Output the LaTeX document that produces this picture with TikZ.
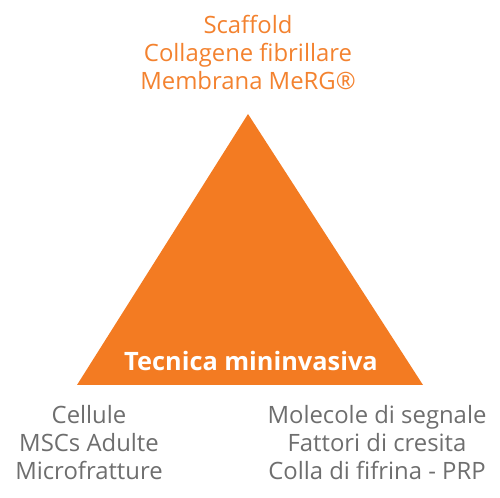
\documentclass[tikz,border=0pt]{standalone}
\usepackage{fontspec}
\setmainfont{Open Sans}
\definecolor{org}{HTML}{F37B22}
\definecolor{orgtext}{HTML}{F3822F}
\definecolor{greytext}{HTML}{6E6E6E}
\begin{document}
\begin{tikzpicture}[x=0.75pt,y=-0.75pt,
  label/.style={align=center,font=\fontsize{17.9pt}{21pt}\selectfont,inner sep=0pt},
  toplabel/.style={label,text=orgtext},
  sidelabel/.style={label,text=greytext}]
\useasboundingbox (0,0) rectangle (500,498);
\coordinate (apex) at (248,114);
\coordinate (bl) at (77,385);
\coordinate (br) at (423,385);
\fill[org] (apex) -- (br) -- (bl) -- cycle;
\node[label,text=white,font=\bfseries\fontsize{19pt}{21pt}\selectfont] (base) at (251,361) {Tecnica mininvasiva};
\node[toplabel] (top) at (248,52) {Scaffold\\Collagene fibrillare\\Membrana MeRG®};
\node[sidelabel] (left) at (89,443) {Cellule\\MSCs Adulte\\Microfratture};
\node[sidelabel] (right) at (377,443) {Molecole di segnale\\Fattori di cresita\\Colla di fifrina - PRP};
\end{tikzpicture}
\end{document}
